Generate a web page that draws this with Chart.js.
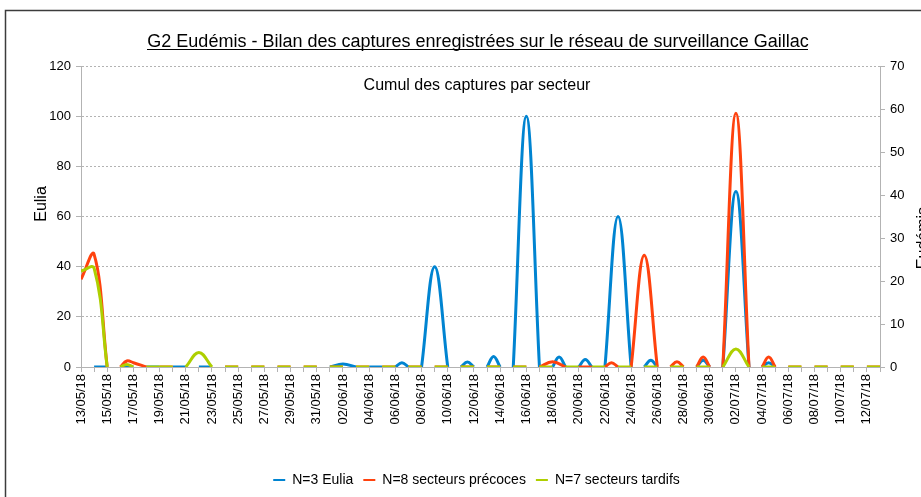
<!DOCTYPE html>
<html>
<head>
<meta charset="utf-8">
<title>G2 Eudémis - Gaillac</title>
<script src="https://cdn.jsdelivr.net/npm/chart.js@4/dist/chart.umd.min.js"></script>
<style>
  html, body { margin: 0; padding: 0; background: #fff; }
  canvas { display: block; }
</style>
</head>
<body>
<canvas id="graphique" width="921" height="497"></canvas>
<script>
// Étiquettes de l'axe des dates (une tous les 2 jours, jour 0 = 13/05/18)
const etiquettes = [
  "13/05/18", "15/05/18", "17/05/18", "19/05/18", "21/05/18", "23/05/18",
  "25/05/18", "27/05/18", "29/05/18", "31/05/18", "02/06/18", "04/06/18",
  "06/06/18", "08/06/18", "10/06/18", "12/06/18", "14/06/18", "16/06/18",
  "18/06/18", "20/06/18", "22/06/18", "24/06/18", "26/06/18", "28/06/18",
  "30/06/18", "02/07/18", "04/07/18", "06/07/18", "08/07/18", "10/07/18",
  "12/07/18"
];
const dernierJour = 61;

const ticksEulia = [0, 20, 40, 60, 80, 100, 120];
const ticksEudemis = [0, 10, 20, 30, 40, 50, 60, 70];

// [jour, captures] ; null = relevé manquant (coupure de la courbe)
const eulia = [
  [1, 0], [2, 0], null,
  [3, 0], [4, 0], null,
  [5, 0], [6, 0], null,
  [7, 0], [8, 0], null,
  [9, 0], [10, 0], null,
  [19, 0], [20, 1.2], [21, 0], null,
  [22, 0], [23, 0], null,
  [24, 0], [24.5, 1.7], [25, 0], null,
  [26, 0], [27, 40], [28, 0], null,
  [29, 0], [29.5, 2], [30, 0], null,
  [31, 0], [31.5, 4.2], [32, 0], null,
  [33, 0], [34, 100], [35, 0], null,
  [36, 0], [36.5, 4], [37, 0], null,
  [38, 0], [38.5, 3], [39, 0], null,
  [40, 0], [41, 60], [42, 0], null,
  [43, 0], [43.5, 2.7], [44, 0], null,
  [47, 0], [47.5, 2.7], [48, 0], null,
  [49, 0], [50, 70], [51, 0], null,
  [52, 0], [52.5, 1.7], [53, 0]
];

const precoces = [
  [0, 20.4], [1, 26.2], [2, 0], null,
  [3, 0], [3.5, 1.4], [4, 1], [5, 0], null,
  [6, 0], [7, 0], null,
  [11, 0], [12, 0], null, [13, 0], [14, 0], null, [15, 0], [16, 0], null,
  [17, 0], [18, 0], null, [19, 0], [20, 0], null, [21, 0], [22, 0], null,
  [23, 0], [24, 0], null, [25, 0], [26, 0], null, [27, 0], [28, 0], null,
  [29, 0], [30, 0], null, [31, 0], [32, 0], null, [33, 0], [34, 0], null,
  [35, 0], [36, 1.2], [37, 0], null,
  [38, 0], [39, 0], null,
  [40, 0], [40.5, 1], [41, 0], null,
  [42, 0], [43, 26], [44, 0], null,
  [45, 0], [45.5, 1.2], [46, 0], null,
  [47, 0], [47.5, 2.3], [48, 0], null,
  [49, 0], [50, 59], [51, 0], null,
  [52, 0], [52.5, 2.3], [53, 0], null,
  [54, 0], [55, 0], null, [56, 0], [57, 0], null,
  [58, 0], [59, 0], null, [60, 0], [61, 0]
];

const tardifs = [
  [0, 22.3], [1, 23], [2, 0], null,
  [3, 0], [3.5, 0.6], [4, 0], null,
  [5, 0], [6, 0], [7, 0], null,
  [8, 0], [9, 3.4], [10, 0], null,
  [11, 0], [12, 0], null, [13, 0], [14, 0], null, [15, 0], [16, 0], null,
  [17, 0], [18, 0], null, [19, 0], [20, 0], null, [21, 0], [22, 0], null,
  [23, 0], [24, 0], null, [25, 0], [26, 0], null, [27, 0], [28, 0], null,
  [29, 0], [30, 0], null, [31, 0], [32, 0], null, [33, 0], [34, 0], null,
  [35, 0], [36, 0], null, [37, 0], [38, 0], null, [39, 0], [40, 0], null,
  [41, 0], [42, 0], null, [43, 0], [44, 0], null, [45, 0], [46, 0], null,
  [47, 0], [48, 0], null,
  [49, 0], [50, 4.2], [51, 0], null,
  [52, 0], [53, 0], null, [54, 0], [55, 0], null,
  [56, 0], [57, 0], null, [58, 0], [59, 0], null, [60, 0], [61, 0]
];

const titre = "G2 Eudémis - Bilan des captures enregistrées sur le réseau de surveillance Gaillac";
const sousTitre = "Cumul des captures par secteur";
const police = '"Liberation Sans", Arial, sans-serif';
const gris = "#b3b3b3";

// transforme [jour, valeur] / null en points pour l'axe linéaire
function versPoints(serie) {
  return serie.map((p, i) => p ? { x: p[0], y: p[1] } : { x: serie[i - 1][0] + 0.25, y: null });
}

function serieLigne(label, data, couleur, axe, ordre) {
  return {
    label: label,
    data: versPoints(data),
    borderColor: couleur,
    backgroundColor: couleur,
    borderWidth: 3,
    pointRadius: 0,
    pointHoverRadius: 0,
    tension: 0.4,
    spanGaps: false,
    yAxisID: axe,
    order: ordre
  };
}

const habillage = {
  id: "habillage",
  afterDraw(chart) {
    const ctx = chart.ctx;
    ctx.save();
    // cadre
    ctx.strokeStyle = "#3c3c3c";
    ctx.lineWidth = 1.5;
    ctx.strokeRect(5.5, 10.5, 1000, 1000);

    // titre souligné
    ctx.fillStyle = "#000";
    ctx.font = "18px " + police;
    ctx.textAlign = "center";
    ctx.textBaseline = "alphabetic";
    ctx.fillText(titre, 478, 47);
    const w = ctx.measureText(titre).width;
    ctx.fillRect(Math.round(478 - w / 2), 49, Math.round(w), 1);

    // sous-titre dans la zone de tracé
    ctx.font = "16px " + police;
    ctx.textBaseline = "middle";
    ctx.fillText(sousTitre, 477, 86);

    // titres des axes
    ctx.font = "16px " + police;
    ctx.save();
    ctx.translate(42, 204);
    ctx.rotate(-Math.PI / 2);
    ctx.fillText("Eulia", 0, 0);
    ctx.restore();

    ctx.save();
    ctx.translate(916, 238);
    ctx.rotate(-Math.PI / 2);
    ctx.textBaseline = "top";
    ctx.fillText("Eudémis", 0, 0);
    ctx.restore();

    ctx.restore();
  }
};

const ctx = document.getElementById("graphique").getContext("2d");

new Chart(ctx, {
  type: "line",
  data: {
    datasets: [
      serieLigne("N=3 Eulia", eulia, "#0084d1", "y", 2),
      serieLigne("N=8 secteurs précoces", precoces, "#ff420e", "y1", 1),
      serieLigne("N=7 secteurs tardifs", tardifs, "#aecf00", "y1", 0)
    ]
  },
  options: {
    responsive: false,
    animation: false,
    events: [],
    layout: { padding: { top: 66, left: 32, right: 0, bottom: 0 } },
    scales: {
      x: {
        type: "linear",
        min: 0,
        max: dernierJour,
        afterFit: (s) => { s.height = 96; },
        ticks: {
          stepSize: 1,
          autoSkip: false,
          maxTicksLimit: 200,
          minRotation: 90,
          maxRotation: 90,
          padding: 2,
          color: "#000",
          font: { family: police, size: 13 },
          callback: (v) => (v % 2 === 0 ? etiquettes[v / 2] : "")
        },
        grid: { drawOnChartArea: false, tickLength: 5, color: gris },
        border: { color: gris }
      },
      y: {
        position: "left",
        min: ticksEulia[0],
        max: ticksEulia[ticksEulia.length - 1],
        afterFit: (s) => { s.width = 49; },
        afterBuildTicks: (s) => { s.ticks = ticksEulia.map((v) => ({ value: v })); },
        ticks: { padding: 5, color: "#000", font: { family: police, size: 13 } },
        grid: { color: gris, tickLength: 5, tickBorderDash: [] },
        border: { color: gris, dash: [2, 2] }
      },
      y1: {
        position: "right",
        min: ticksEudemis[0],
        max: ticksEudemis[ticksEudemis.length - 1],
        afterFit: (s) => { s.width = 41; },
        afterBuildTicks: (s) => { s.ticks = ticksEudemis.map((v) => ({ value: v })); },
        ticks: { padding: 5, color: "#000", font: { family: police, size: 13 } },
        grid: { drawOnChartArea: false, color: gris, tickLength: 5 },
        border: { color: gris }
      }
    },
    plugins: {
      title: { display: false },
      tooltip: { enabled: false },
      legend: {
        position: "bottom",
        labels: {
          color: "#000",
          font: { family: police, size: 14 },
          boxWidth: 12,
          boxHeight: 2,
          padding: 10,
          sort: (a, b) => a.datasetIndex - b.datasetIndex,
          generateLabels: (chart) =>
            Chart.defaults.plugins.legend.labels.generateLabels(chart).map((it) => {
              it.fillStyle = it.strokeStyle;
              it.lineWidth = 0;
              return it;
            })
        }
      }
    }
  },
  plugins: [habillage]
});
</script>
</body>
</html>
